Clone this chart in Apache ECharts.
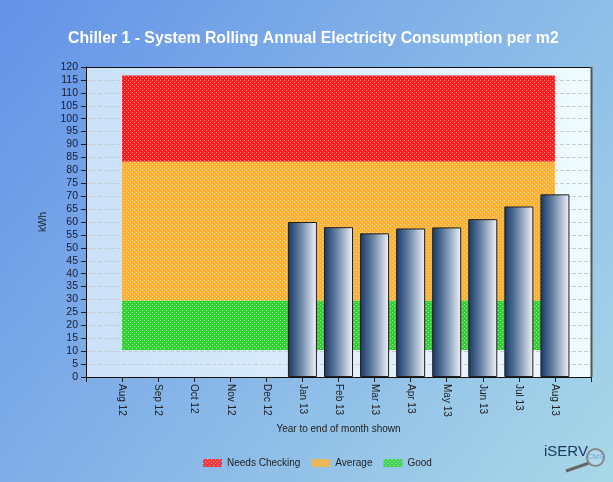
<!DOCTYPE html>
<html>
<head>
<meta charset="utf-8">
<script src="https://cdn.jsdelivr.net/npm/echarts@6/dist/echarts.min.js"></script>
<style>
html,body{margin:0;padding:0;}
#chart{width:613px;height:482px;}
</style>
</head>
<body>
<div id="chart"></div>
<script>
var months = ['Aug 12','Sep 12','Oct 12','Nov 12','Dec 12','Jan 13','Feb 13','Mar 13','Apr 13','May 13','Jun 13','Jul 13','Aug 13'];
var consumption = [null,null,null,null,null,60,58,55.6,57.5,57.9,61.1,66,70.7];
var bandNames = ['Needs Checking','Average','Good'];
var bandLow = [83.3,29.5,10.5];
var bandHigh = [116.7,83.3,29.5];
var bandBase = ['#ff1c1c','#ffb02c','#2ed42e'];
var bandDot = ['#ff8a8a','#ffd890','#9af09a'];
var yTicks = {min:0,max:120,interval:5};

function pattern(base, dot){
  var c = document.createElement('canvas');
  c.width = 4; c.height = 4;
  var g = c.getContext('2d');
  g.fillStyle = base; g.fillRect(0,0,4,4);
  g.fillStyle = dot;
  g.fillRect(0,0,1,1); g.fillRect(2,2,1,1);
  return {image:c, repeat:'repeat'};
}

var FONT = 'Liberation Sans, Arial';
var chart = echarts.init(document.getElementById('chart'));
var series = [];
bandNames.forEach(function(n,i){
  var pat = pattern(bandBase[i], bandDot[i]);
  series.push({
    name:n, type:'scatter', data:[], z:1,
    itemStyle:{color:pat},
    markArea:{silent:true, itemStyle:{color:pat, opacity:1},
      data:[[{xAxis:0, yAxis:bandLow[i]},{xAxis:months.length-1, yAxis:bandHigh[i]}]]}
  });
});
series.push({
  name:'kWh', type:'bar', z:3, barWidth:29,
  data: months.map(function(m,i){ return [i, consumption[i]]; }),
  itemStyle:{
    borderColor:'#1e1e1e', borderWidth:1,
    color:new echarts.graphic.LinearGradient(0,0,1,0,[
      {offset:0,color:'#163763'},{offset:0.45,color:'#6a86a8'},{offset:1,color:'#f2f5f8'}])
  }
});

chart.setOption({
  animation:false,
  backgroundColor:new echarts.graphic.LinearGradient(0,0,1,1,[
    {offset:0,color:'#6392e8'},{offset:1,color:'#a9d8e8'}]),
  title:{
    text:'Chiller 1 - System Rolling Annual Electricity Consumption per m2',
    left:63, top:26,
    textStyle:{color:'#ffffff', fontSize:15.8, fontWeight:'bold', fontFamily:FONT}
  },
  legend:{
    data:bandNames, left:198, top:453, icon:'rect', itemWidth:19, itemHeight:8, itemGap:11,
    textStyle:{color:'#222', fontSize:10, fontFamily:FONT}
  },
  grid:{left:86, top:67, right:22, bottom:105,
    show:true, borderWidth:0,
    backgroundColor:new echarts.graphic.LinearGradient(0,0,1,0,[
      {offset:0,color:'#cbe1f8'},{offset:1,color:'#effcff'}])
  },
  xAxis:{
    type:'value', min:-1, max:months.length, interval:1,
    name:'Year to end of month shown', nameLocation:'middle', nameGap:46,
    nameTextStyle:{color:'#222', fontSize:10, fontFamily:FONT},
    axisLine:{show:true, onZero:false, lineStyle:{color:'#111', width:1}},
    axisTick:{show:true, length:5, lineStyle:{color:'#222'}},
    splitLine:{show:false},
    axisLabel:{rotate:-90, margin:7, color:'#222', fontSize:10, fontFamily:FONT,
      formatter:function(v){ return (v>=0 && v<months.length && v===Math.round(v)) ? months[v] : ''; }}
  },
  yAxis:{
    type:'value', min:yTicks.min, max:yTicks.max, interval:yTicks.interval,
    name:'kWh', nameLocation:'middle', nameGap:38, nameRotate:90,
    nameTextStyle:{color:'#222', fontSize:10, fontFamily:FONT},
    axisLine:{show:true, onZero:false, lineStyle:{color:'#111', width:1}},
    axisTick:{show:true, length:5, lineStyle:{color:'#222'}},
    axisLabel:{color:'#1a1a2a', fontSize:10.5, margin:8, fontFamily:FONT},
    splitLine:{show:true, lineStyle:{color:'#c4ccd4', type:'dashed'}}
  },
  graphic:[
    {type:'line', shape:{x1:86, y1:67.5, x2:591, y2:67.5}, style:{stroke:'#111', lineWidth:1}, z:10},
    {type:'line', shape:{x1:591.5, y1:67, x2:591.5, y2:377}, style:{stroke:'#555', lineWidth:2}, z:10},
    {type:'text', left:544, top:444, style:{text:'iSERV', fill:'#1d3a62', font:'15px Liberation Sans, Arial'}, z:10},
    {type:'line', shape:{x1:566, y1:471, x2:589, y2:463}, style:{stroke:'#666', lineWidth:3}, z:10},
    {type:'circle', shape:{cx:595.5, cy:457.5, r:8.5}, style:{fill:'rgba(210,230,245,0.35)', stroke:'#888', lineWidth:2}, z:10},
    {type:'text', left:588, top:454, style:{text:'CMS', fill:'#6f9fd8', font:'7px Liberation Sans, Arial'}, z:11}
  ],
  series:series
});
</script>
</body>
</html>
